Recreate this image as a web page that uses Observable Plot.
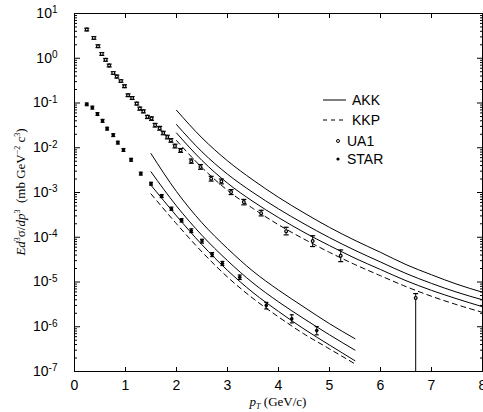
<!DOCTYPE html>
<html><head><meta charset="utf-8">
<script src="https://cdn.jsdelivr.net/npm/d3@7"></script>
<script src="https://cdn.jsdelivr.net/npm/@observablehq/plot@0.6"></script>
<style>body{margin:0;background:#fff}svg{display:block}</style>
</head><body><div id="chart"></div>
<script>
// ---- data ----
const ua1X = [0.24,0.38,0.46,0.535,0.61,0.68,0.76,0.83,0.91,0.98,1.05,1.13,1.22,1.28,1.35,1.43,1.51,1.58,1.67,1.74,1.82,1.89,1.97,2.08,2.29,2.47,2.68,2.88,3.07,3.32,3.66,4.15,4.67,5.22,6.69];
const ua1Y = [4.38,2.85,1.86,1.25,0.92,0.69,0.47,0.39,0.31,0.237,0.149,0.129,0.097,0.075,0.065,0.049,0.045,0.032,0.0272,0.0213,0.0173,0.0146,0.0109,0.0087,0.0050,0.0037,0.00204,0.00177,0.00102,0.00061,0.000346,0.000137,0.000082,0.0000385,0.0000044];
const ua1Hi = [4.7,3.05,2.0,1.34,0.99,0.74,0.5,0.42,0.33,0.255,0.16,0.139,0.104,0.081,0.07,0.053,0.049,0.035,0.03,0.0233,0.019,0.016,0.012,0.0096,0.0056,0.0042,0.0023,0.002,0.00116,0.0007,0.0004,0.000167,0.000108,0.000052,0.0000055];
const ua1Lo = [4.08,2.66,1.73,1.16,0.86,0.64,0.44,0.36,0.29,0.22,0.139,0.12,0.09,0.069,0.06,0.045,0.041,0.029,0.0247,0.0195,0.0158,0.0133,0.0099,0.0079,0.0045,0.0033,0.0018,0.00156,0.0009,0.00053,0.0003,0.000113,0.000062,0.0000285,0.000000001];

const starX = [0.24,0.35,0.45,0.55,0.64,0.76,0.85,0.96,1.11,1.30,1.50,1.71,1.90,2.10,2.29,2.50,2.70,2.90,3.24,3.76,4.26,4.75];
const starY = [0.0935,0.079,0.0567,0.040,0.0267,0.0192,0.0130,0.0089,0.0054,0.00264,0.00157,0.00083,0.000434,0.000238,0.00014,0.000082,0.000041,0.000026,0.0000128,0.0000030,0.0000015,0.00000082];
const starHi = [0.1,0.085,0.061,0.043,0.0287,0.0206,0.014,0.0096,0.0058,0.00284,0.00169,0.0009,0.00047,0.00026,0.000154,0.00009,0.0000455,0.0000288,0.0000143,0.0000035,0.00000185,0.00000101];
const starLo = [0.087,0.073,0.0527,0.037,0.0248,0.0178,0.0121,0.0083,0.005,0.00245,0.00146,0.00077,0.0004,0.000218,0.000127,0.000074,0.000037,0.0000234,0.0000114,0.0000025,0.00000122,0.00000066];

// theory curves, UA1 energy (pT 2..8)
const hiX = [2,2.5,3,3.5,4,4.5,5,5.5,6,6.5,7,7.5,8];
const akkHi1 = [6.9e-2,1.66e-2,5.1e-3,1.9e-3,7.8e-4,3.5e-4,1.66e-4,8.5e-5,4.6e-5,2.45e-5,1.45e-5,8.9e-6,5.9e-6];
const akkHi2 = [3.3e-2,8.1e-3,2.57e-3,1.0e-3,4.3e-4,2.0e-4,9.8e-5,5.1e-5,2.8e-5,1.55e-5,9.3e-6,5.9e-6,4.0e-6];
const akkHi3 = [2.14e-2,5.2e-3,1.62e-3,6.3e-4,2.75e-4,1.29e-4,6.5e-5,3.4e-5,1.9e-5,1.07e-5,6.5e-6,4.2e-6,2.8e-6];
const kkpHi  = [1.45e-2,3.6e-3,1.12e-3,4.4e-4,1.9e-4,9.1e-5,4.6e-5,2.45e-5,1.38e-5,7.9e-6,4.8e-6,3.1e-6,2.1e-6];
// theory curves, STAR energy (pT 1.5..5.5)
const loX = [1.5,2,2.5,3,3.5,4,4.5,5,5.5];
const akkLo1 = [7.4e-3,1.05e-3,2.1e-4,5.6e-5,1.74e-5,6.6e-6,2.75e-6,1.17e-6,5.4e-7];
const akkLo2 = [2.9e-3,5.0e-4,1.1e-4,3.0e-5,9.5e-6,3.6e-6,1.51e-6,6.6e-7,3.0e-7];
const akkLo3 = [1.45e-3,3.0e-4,6.8e-5,1.82e-5,5.8e-6,2.2e-6,8.9e-7,3.9e-7,1.74e-7];
const kkpLo  = [9.3e-4,2.0e-4,4.7e-5,1.29e-5,4.3e-6,1.66e-6,6.9e-7,3.2e-7,1.48e-7];

const xTicks = [0,1,2,3,4,5,6,7,8];
const yExps = [-7,-6,-5,-4,-3,-2,-1,0,1];

// ---- build tables ----
const pts = (xs, ys, his, los) => xs.map((x,i)=>({x, y: ys[i], hi: his[i], lo: los[i]}));
const ua1 = pts(ua1X, ua1Y, ua1Hi, ua1Lo);
const star = pts(starX, starY, starHi, starLo);
const curve = (id, xs, ys) => xs.map((x,i)=>({id, x, y: ys[i]}));
const solid = [...curve("h1",hiX,akkHi1),...curve("h2",hiX,akkHi2),...curve("h3",hiX,akkHi3),
               ...curve("l1",loX,akkLo1),...curve("l2",loX,akkLo2),...curve("l3",loX,akkLo3)];
const dashed = [...curve("hk",hiX,kkpHi),...curve("lk",loX,kkpLo)];

const yMajor = yExps.map(e=>10**e);
const yMinor = [];
yExps.slice(0,-1).forEach(e=>{ for (let m=2;m<=9;m++) yMinor.push(m*10**e); });

const cap = {draw(ctx, size){ const w = Math.sqrt(size/Math.PI); ctx.moveTo(-w,0); ctx.lineTo(w,0); }};
const FONT = "Liberation Sans, Arial, sans-serif";

const plot = Plot.plot({
  width: 483, height: 412,
  marginLeft: 74, marginRight: 1, marginTop: 13, marginBottom: 41,
  style: {fontFamily: FONT, fontSize: "14px", color: "#000", background: "#fff"},
  x: {domain: [0,8]},
  y: {type: "log", domain: [1e-7, 10]},
  marks: [
    Plot.frame({stroke: "#000"}),
    // labels
    Plot.axisX({ticks: xTicks, tickSize: 0, tickPadding: 9, tickFormat: d=>String(d), label: null, fontSize: 14}),
    Plot.axisY({ticks: yMajor, tickSize: 0, tickPadding: 17, tickFormat: d=>"10^"+Math.round(Math.log10(d)), label: null, fontSize: 14}),
    // inward ticks
    Plot.axisX({anchor: "bottom", ticks: xTicks, tickSize: -4, text: null, label: null}),
    Plot.axisX({anchor: "top", ticks: xTicks, tickSize: -4, text: null, label: null}),
    Plot.axisY({anchor: "left", ticks: yMajor, tickSize: -6, text: null, label: null}),
    Plot.axisY({anchor: "left", ticks: yMinor, tickSize: -3, text: null, label: null}),
    Plot.axisY({anchor: "right", ticks: yMajor, tickSize: -6, text: null, label: null}),
    Plot.axisY({anchor: "right", ticks: yMinor, tickSize: -3, text: null, label: null}),
    // theory
    Plot.line(solid, {x: "x", y: "y", z: "id", curve: "monotone-x", stroke: "#000", strokeWidth: 1}),
    Plot.line(dashed, {x: "x", y: "y", z: "id", curve: "monotone-x", stroke: "#000", strokeWidth: 1, strokeDasharray: "5,4"}),
    // error bars
    Plot.ruleX(ua1, {x: "x", y1: "lo", y2: "hi", stroke: "#000", strokeWidth: 1, clip: true}),
    Plot.ruleX(star, {x: "x", y1: "lo", y2: "hi", stroke: "#000", strokeWidth: 1}),
    Plot.dot(ua1, {x: "x", y: "hi", symbol: cap, r: 2.5, stroke: "#000", strokeWidth: 1.2}),
    Plot.dot(ua1.filter(d=>d.lo > 1e-7), {x: "x", y: "lo", symbol: cap, r: 2.5, stroke: "#000", strokeWidth: 1.2}),
    Plot.dot(star, {x: "x", y: "hi", symbol: cap, r: 2, stroke: "#000", strokeWidth: 1.2}),
    Plot.dot(star, {x: "x", y: "lo", symbol: cap, r: 2, stroke: "#000", strokeWidth: 1.2}),
    // points
    Plot.dot(ua1, {x: "x", y: "y", r: 1.4, fill: "#fff", stroke: "#000", strokeWidth: 1.2}),
    Plot.dot(star, {x: "x", y: "y", r: 1.8, fill: "#000", stroke: "none"})
  ]
});

// superscript tick labels on y
d3.select(plot).selectAll("g[aria-label='y-axis tick label'] text").each(function(){
  const t = this.textContent;
  const m = t.match(/^10\^(-?\d+)$/);
  if (!m) return;
  const sel = d3.select(this);
  sel.text(null);
  sel.append("tspan").text("10");
  sel.append("tspan").attr("dy", "-0.45em").attr("font-size", "10px").text(m[1]);
});

const svg = d3.select(plot);
const serif = "Liberation Serif, Times New Roman, serif";
// x label
const xl = svg.append("text").attr("x", 278).attr("y", 406).attr("text-anchor", "middle")
  .attr("font-family", serif).attr("font-size", 13).attr("fill", "#000");
xl.append("tspan").attr("font-style", "italic").text("p");
xl.append("tspan").attr("font-style", "italic").attr("font-size", 8).attr("dy", 3).text("T");
xl.append("tspan").attr("dy", -3).text(" (GeV/c)");
// y label
const yl = svg.append("text").attr("transform", "translate(25,192) rotate(-90)").attr("text-anchor", "middle")
  .attr("font-family", serif).attr("font-size", 13).attr("fill", "#000");
yl.append("tspan").attr("font-style", "italic").text("Ed");
yl.append("tspan").attr("font-size", 8).attr("dy", -5).text("3");
yl.append("tspan").attr("dy", 5).text("σ/");
yl.append("tspan").attr("font-style", "italic").text("dp");
yl.append("tspan").attr("font-size", 8).attr("dy", -5).text("3");
yl.append("tspan").attr("dy", 5).text("  (mb GeV");
yl.append("tspan").attr("font-size", 8).attr("dy", -5).text("−2");
yl.append("tspan").attr("dy", 5).text(" c");
yl.append("tspan").attr("font-size", 8).attr("dy", -5).text("3");
yl.append("tspan").attr("dy", 5).text(")");

// legend
const lg = svg.append("g").attr("font-family", FONT).attr("font-size", 14).attr("fill", "#000").attr("text-anchor", "start");
lg.append("line").attr("x1", 323).attr("x2", 346).attr("y1", 100).attr("y2", 100).attr("stroke", "#000");
lg.append("text").attr("x", 352).attr("y", 100).attr("dy", "0.35em").text("AKK");
lg.append("line").attr("x1", 323).attr("x2", 346).attr("y1", 120).attr("y2", 120).attr("stroke", "#000").attr("stroke-dasharray", "4,4");
lg.append("text").attr("x", 352).attr("y", 120).attr("dy", "0.35em").text("KKP");
lg.append("circle").attr("cx", 338).attr("cy", 141).attr("r", 1.5).attr("fill", "#fff").attr("stroke", "#000");
lg.append("text").attr("x", 347).attr("y", 141).attr("dy", "0.35em").text("UA1");
lg.append("circle").attr("cx", 338).attr("cy", 159).attr("r", 1.6).attr("fill", "#000");
lg.append("text").attr("x", 347).attr("y", 159).attr("dy", "0.35em").text("STAR");

document.getElementById("chart").append(plot);
</script>
</body></html>
